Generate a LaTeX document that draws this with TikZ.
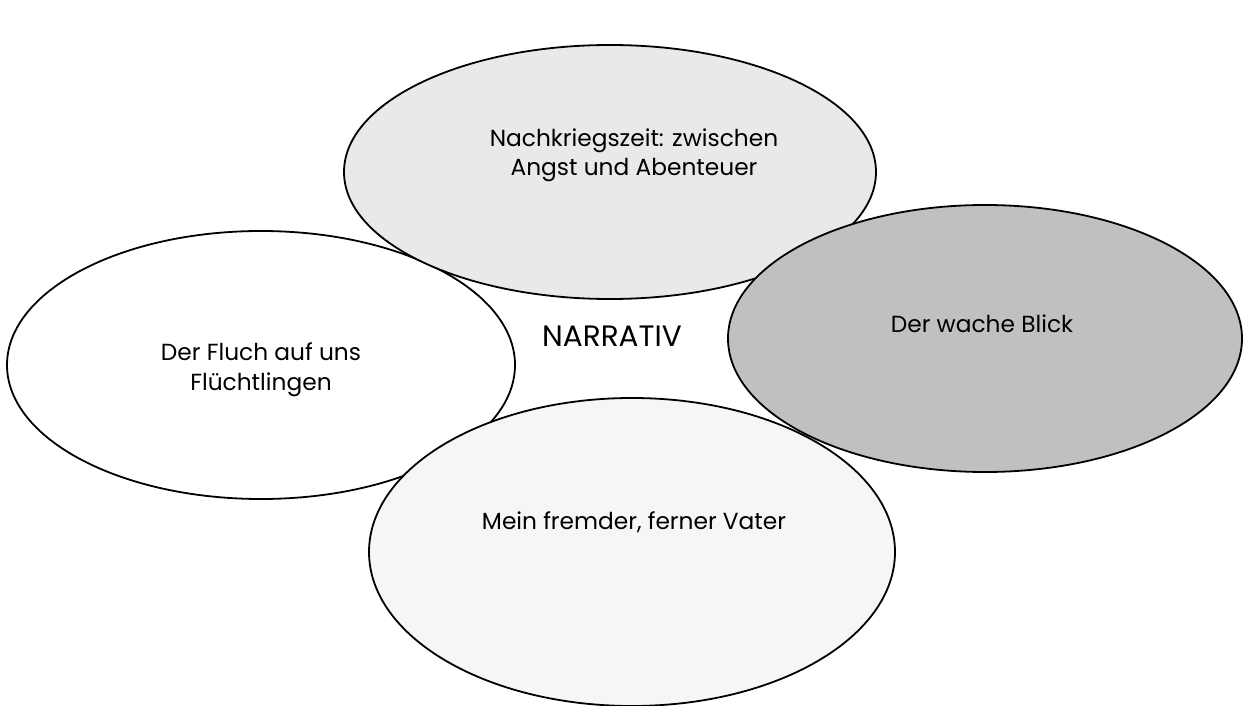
\documentclass[tikz,border=0pt]{standalone}
\usepackage{fontspec}
\setmainfont{Poppins}
\usetikzlibrary{shapes.geometric}
\definecolor{topfill}{HTML}{E9E9E9}
\definecolor{rightfill}{HTML}{C0C0C0}
\definecolor{botfill}{HTML}{F6F6F6}
\tikzset{
  oval/.style={ellipse, draw=black, line width=1.8pt, inner sep=0pt},
  lbl/.style={font=\fontsize{23.3}{30}\selectfont, align=center, inner sep=0pt, anchor=base},
  big/.style={font=\fontsize{29.5}{32}\selectfont, inner sep=0pt, anchor=base}
}
\begin{document}
\begin{tikzpicture}[x=1pt,y=-1pt]
\useasboundingbox (0,0) rectangle (1243,706);
\node[oval, fill=white, minimum width=508pt, minimum height=268pt] (left) at (261,365) {};
\node[oval, fill=topfill, minimum width=532pt, minimum height=254pt] (top) at (610,172) {};
\node[oval, fill=rightfill, minimum width=514pt, minimum height=267pt] (right) at (985,338.5) {};
\node[oval, fill=botfill, minimum width=526pt, minimum height=308pt] (bottom) at (632,552) {};
\node[lbl] (ttop) at (634,176) {Nachkriegszeit: zwischen\\Angst und Abenteuer};
\node[lbl] (tleft) at (261,390) {Der Fluch auf uns\\Flüchtlingen};
\node[lbl] (tright) at (982,332) {Der wache Blick};
\node[lbl] (tbottom) at (634,529) {Mein fremder, ferner Vater};
\node[big] (center) at (612,346) {NARRATIV};
\end{tikzpicture}
\end{document}
